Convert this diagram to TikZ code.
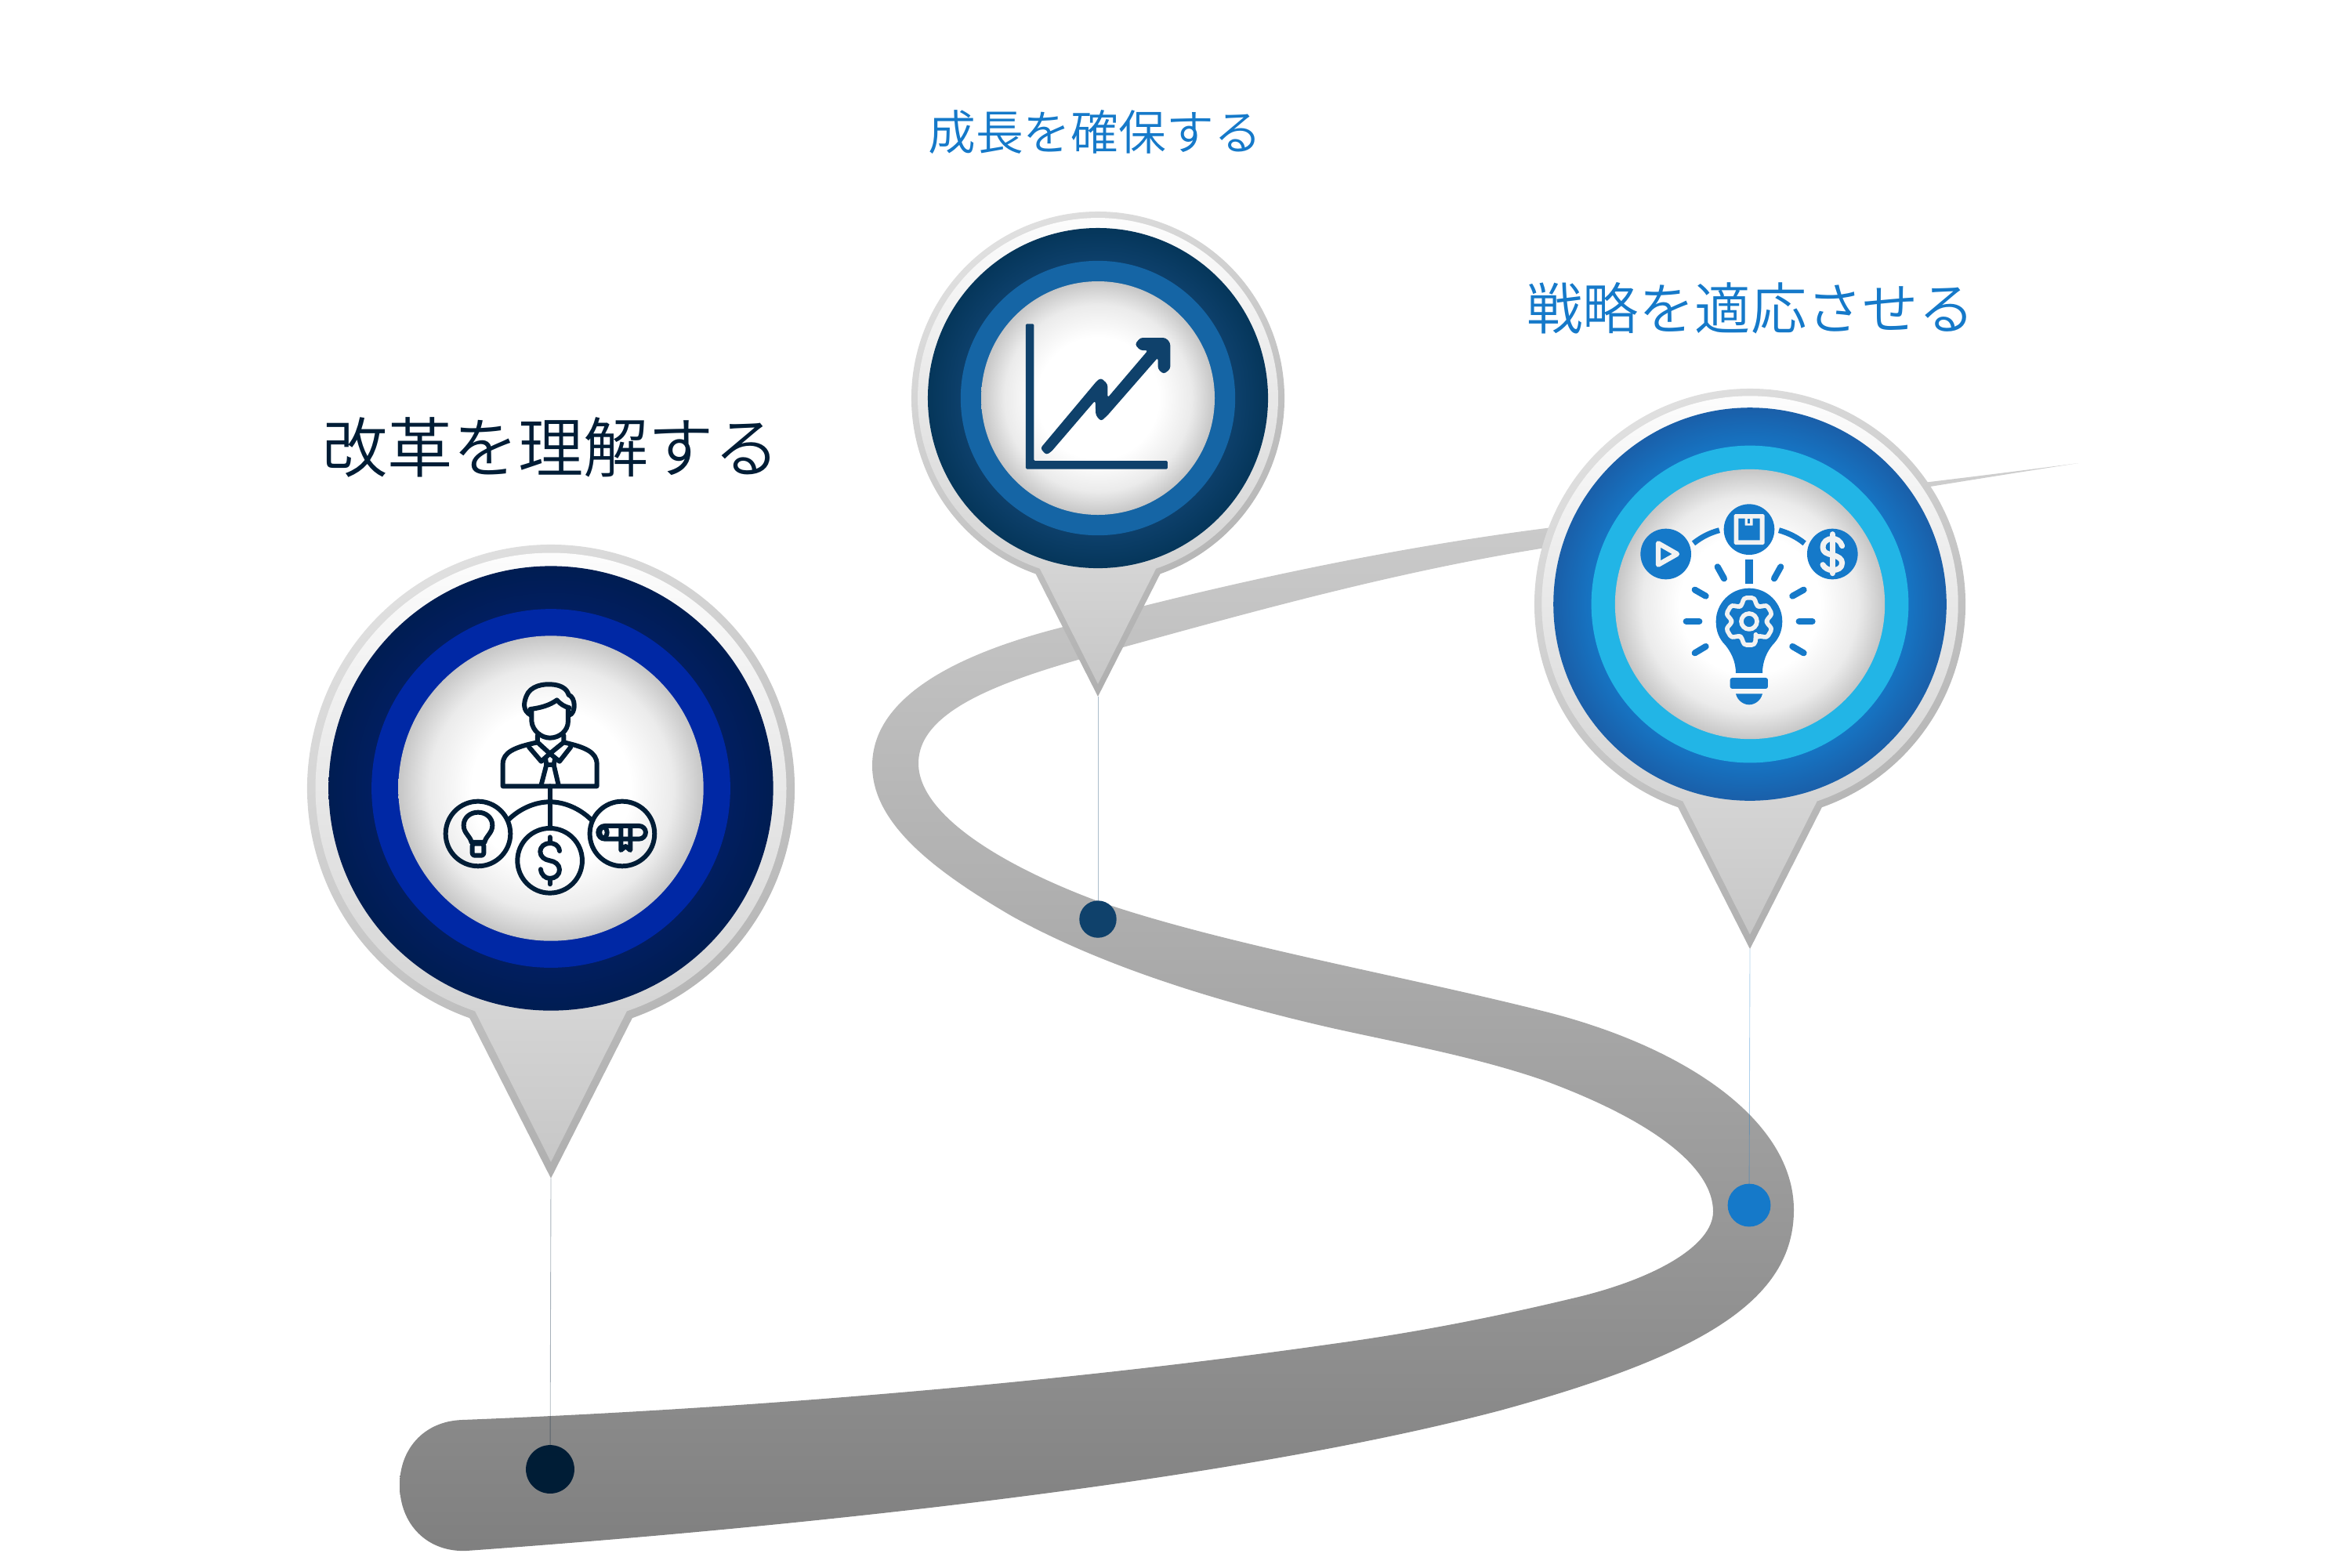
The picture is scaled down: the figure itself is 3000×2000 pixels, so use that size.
\documentclass[tikz,border=0pt]{standalone}
\usepackage{fontspec}
\usepackage{tikz}
\usetikzlibrary{calc, positioning}
\newfontfamily\jpfont{Noto Sans CJK JP DemiLight}

\definecolor{navyink}{HTML}{001D36}
\definecolor{deepblue}{HTML}{0F416B}
\definecolor{brightblue}{HTML}{1579C9}
\definecolor{ringa}{HTML}{001D52}
\definecolor{ringb}{HTML}{021E63}
\definecolor{ringc}{HTML}{05365A}
\definecolor{ringd}{HTML}{0F426F}
\definecolor{ringe}{HTML}{1A5FA9}
\definecolor{ringf}{HTML}{1579C9}
\definecolor{midone}{HTML}{0028A5}
\definecolor{midtwo}{HTML}{1565A5}
\definecolor{midthree}{HTML}{22B5E6}
\definecolor{coreedge}{HTML}{C6C6C6}
\definecolor{corehalf}{HTML}{EBEBEB}

\pgfdeclareradialshading{ringone}{\pgfpointorigin}{color(0bp)=(ringb); color(19bp)=(ringb); color(25bp)=(ringa); color(50bp)=(ringa)}
\pgfdeclareradialshading{ringtwo}{\pgfpointorigin}{color(0bp)=(ringd); color(19bp)=(ringd); color(25bp)=(ringc); color(50bp)=(ringc)}
\pgfdeclareradialshading{ringthree}{\pgfpointorigin}{color(0bp)=(ringf); color(19bp)=(ringf); color(25bp)=(ringe); color(50bp)=(ringe)}
\pgfdeclareradialshading{corefade}{\pgfpointorigin}{color(0bp)=(white); color(13bp)=(white); color(20bp)=(corehalf); color(25bp)=(coreedge); color(50bp)=(coreedge)}

% #1 ring shading, #2 middle ring colour
\newcommand{\pinbody}[2]{
  \shade[top color=black!12, bottom color=black!32, shading angle=30] (-70.5:100) arc[start angle=-70.5, end angle=250.5, radius=100] -- (0,-160) -- cycle;
  \shade[top color=white, bottom color=black!22] (-71.2:96.6) arc[start angle=-71.2, end angle=251.2, radius=96.6] -- (0,-153.3) -- cycle;
  \shade[shading=#1] (0,0) circle (91.2);
  \fill[#2] (0,0) circle (73.6);
  \shade[shading=corefade] (0,0) circle (62.6);
  \coordinate (tip) at (0,-160);
}

\begin{document}
\begin{tikzpicture}[x=.1mm, y=.1mm,
  stopmark/.style={circle, inner sep=0, outer sep=0, minimum size=#1},
  leader/.style={line width=.25pt, opacity=.35},
  heading/.style={font=\jpfont, inner sep=0},
  iconline/.style={draw=navyink, line width=1.7pt, line cap=round, line join=round},
  bluefill/.style={fill=brightblue},
  whiteline/.style={draw=white!95!black, line cap=round, line join=round},
  ray/.style={draw=brightblue, line width=2.3pt, line cap=round}]

\useasboundingbox (0,-2000) rectangle (3000,0);

% road
\shade[top color=black!19, bottom color=black!50]
  (589,-1812) .. controls (950,-1798) and (1350,-1765) .. (1700,-1715)
  .. controls (1810,-1700) and (1910,-1680) .. (2006,-1657)
  .. controls (2110,-1633) and (2186,-1590) .. (2186,-1546)
  .. controls (2186,-1490) and (2110,-1430) .. (1968,-1378)
  .. controls (1880,-1348) and (1790,-1332) .. (1700,-1312)
  .. controls (1560,-1280) and (1410,-1235) .. (1291,-1169)
  .. controls (1190,-1110) and (1113,-1050) .. (1113,-977)
  .. controls (1113,-890) and (1220,-835) .. (1353,-801)
  .. controls (1560,-745) and (1770,-700) .. (1973,-674)
  .. controls (2200,-645) and (2450,-618) .. (2652,-591)
  .. controls (2450,-622) and (2200,-665) .. (1966,-700)
  .. controls (1780,-730) and (1600,-780) .. (1433,-826)
  .. controls (1300,-862) and (1172,-900) .. (1172,-974)
  .. controls (1172,-1040) and (1280,-1105) .. (1401,-1150)
  .. controls (1560,-1205) and (1790,-1245) .. (1968,-1290)
  .. controls (2150,-1335) and (2289,-1430) .. (2289,-1544)
  .. controls (2289,-1660) and (2170,-1730) .. (1914,-1800)
  .. controls (1560,-1893) and (1000,-1950) .. (595,-1979)
  .. controls (545,-1981) and (510,-1945) .. (510,-1895)
  .. controls (510,-1850) and (540,-1814) .. (589,-1812) -- cycle;

% stops on the road
\node[stopmark=17.6pt, fill=navyink] (stop1) at (702,-1875) {};
\node[stopmark=13.5pt, fill=deepblue] (stop2) at (1401,-1173) {};
\node[stopmark=15.6pt, fill=brightblue] (stop3) at (2232,-1538) {};

% pins
\begin{scope}[shift={(703,-1006)}, scale=3.11]
  \pinbody{ringone}{midone}
  \coordinate (tip1) at (tip);
\end{scope}
\begin{scope}[shift={(1401,-508)}, scale=2.38]
  \pinbody{ringtwo}{midtwo}
  \coordinate (tip2) at (tip);
\end{scope}
\begin{scope}[shift={(2233,-771)}, scale=2.75]
  \pinbody{ringthree}{midthree}
  \coordinate (tip3) at (tip);
\end{scope}

\draw[leader, navyink] (tip1) -- (stop1);
\draw[leader, deepblue] (tip2) -- (stop2);
\draw[leader, brightblue] (tip3) -- (stop3);

% manager icon
\begin{scope}[shift={(560,-860)}, x=.03333mm, y=-.03333mm]
  \draw[iconline] (352,158) .. controls (320,140) and (325,110) .. (335,85) .. controls (350,45) and (400,38) .. (430,40) .. controls (465,42) and (490,55) .. (497,80) .. controls (525,90) and (525,150) .. (500,158);
  \draw[iconline] (350,135) .. controls (390,130) and (425,120) .. (452,100) .. controls (465,115) and (480,125) .. (500,130);
  \draw[iconline] (355,135) -- (355,180) .. controls (358,220) and (395,245) .. (425,245) .. controls (460,245) and (495,220) .. (495,180) -- (495,130);
  \draw[iconline] (378,235) -- (378,262) .. controls (290,280) and (245,300) .. (245,345) -- (245,430) -- (605,430) -- (605,345) .. controls (605,300) and (560,280) .. (478,262) -- (478,235);
  \draw[iconline] (345,280) -- (392,335) -- (425,305) -- (378,262);
  \draw[iconline] (505,280) -- (462,335) -- (425,305) -- (478,262);
  \draw[iconline] (408,322) -- (412,348) -- (440,348) -- (445,322);
  \draw[iconline] (412,348) -- (392,425);
  \draw[iconline] (440,348) -- (458,425);
  \draw[iconline] (425,430) -- (425,590);
  \draw[iconline] (265,560) .. controls (310,515) and (370,490) .. (425,490) .. controls (480,490) and (540,515) .. (585,560);
  \draw[iconline] (150,612) circle (124);
  \draw[iconline] (425,715) circle (124);
  \draw[iconline] (702,612) circle (124);
  \draw[iconline] (125,645) .. controls (120,620) and (95,610) .. (95,580) .. controls (95,550) and (120,530) .. (150,530) .. controls (180,530) and (205,550) .. (205,580) .. controls (205,610) and (180,620) .. (175,645) -- cycle;
  \draw[iconline, rounded corners=.8pt] (128,650) rectangle (172,695);
  \draw[iconline] (462,678) .. controls (460,655) and (440,648) .. (425,648) .. controls (405,648) and (388,662) .. (388,680) .. controls (388,700) and (405,712) .. (425,715) .. controls (445,718) and (462,730) .. (462,750) .. controls (462,770) and (445,783) .. (425,783) .. controls (408,783) and (392,770) .. (390,748);
  \draw[iconline] (425,625) -- (425,648);
  \draw[iconline] (425,783) -- (425,805);
  \draw[iconline, rounded corners=2.4pt] (610,582) rectangle (792,632);
  \draw[iconline] (630,607) ellipse (14 and 20);
  \draw[iconline] (697,585) -- (697,675) -- (715,660) -- (733,675) -- (733,585);
\end{scope}

% growth icon
\begin{scope}[shift={(1150,-250)}, x=.03333mm, y=-.0421mm]
  \fill[deepblue, rounded corners=.4pt] (477,388) -- (508,388) -- (508,803) -- (1020,803) -- (1020,828) -- (477,828) -- cycle;
  \fill[deepblue, rounded corners=.9pt] (533,765) -- (750,560) -- (765,552) -- (790,570) -- (790,612) -- (945,468) -- (915,468) -- (895,450) -- (915,430) -- (1012,430) -- (1030,445) -- (1030,525) -- (1005,540) -- (983,525) -- (983,490) -- (790,665) -- (765,683) -- (745,665) -- (743,620) -- (575,775) -- (555,785) -- cycle;
\end{scope}

% idea icon
\begin{scope}[shift={(2090,-630)}, x=.03333mm, y=-.03333mm]
  \fill[bluefill] (107,231) circle (97);
  \fill[bluefill] (426,137) circle (97);
  \fill[bluefill] (745,231) circle (97);
  \draw[draw=brightblue, line width=2pt] (213,190) .. controls (245,165) and (275,150) .. (312,140);
  \draw[draw=brightblue, line width=2pt] (540,140) .. controls (575,150) and (607,165) .. (638,190);
  \draw[draw=brightblue, line width=2.8pt] (426,252) -- (426,345);
  \draw[ray] (305,280) -- (330,325);
  \draw[ray] (547,280) -- (522,325);
  \draw[ray] (218,368) -- (260,392);
  \draw[ray] (635,368) -- (592,392);
  \draw[ray] (185,489) -- (235,489);
  \draw[ray] (617,489) -- (668,489);
  \draw[ray] (218,610) -- (260,585);
  \draw[ray] (635,610) -- (592,585);
  \fill[bluefill] (375,687) .. controls (375,640) and (355,605) .. (335,580) .. controls (310,555) and (299,525) .. (299,489) .. controls (299,420) and (355,362) .. (426,362) .. controls (497,362) and (553,420) .. (553,489) .. controls (553,525) and (540,555) .. (515,580) .. controls (495,605) and (477,640) .. (477,687) -- cycle;
  \fill[bluefill, rounded corners=.8pt] (353,705) rectangle (498,747);
  \fill[bluefill] (375,766) -- (477,766) .. controls (470,795) and (445,808) .. (426,808) .. controls (407,808) and (382,795) .. (375,766) -- cycle;
  \draw[whiteline, line width=1.6pt] (426,489) circle (30);
  \begin{scope}[shift={(426,489)}]
    \draw[whiteline, line width=1.6pt, rounded corners=1.2pt] (68:68) \foreach \a in {90,150,...,390} { -- (\a-22:68) -- (\a-14:93) -- (\a+14:93) -- (\a+22:68) } -- cycle;
  \end{scope}
  \draw[whiteline, line width=1.8pt] (78,190) -- (150,231) -- (78,272) -- cycle;
  \fill[white!95!black, rounded corners=.5pt] (368,78) rectangle (485,195);
  \fill[bluefill] (385,95) -- (410,95) -- (410,122) -- (440,122) -- (440,95) -- (467,95) -- (467,178) -- (385,178) -- cycle;
  \fill[bluefill] (420,95) rectangle (430,115);
  \draw[whiteline, line width=2pt] (782,200) .. controls (775,180) and (760,172) .. (745,172) .. controls (725,172) and (708,185) .. (708,205) .. controls (708,225) and (725,230) .. (745,235) .. controls (768,240) and (782,250) .. (782,265) .. controls (782,285) and (765,293) .. (745,293) .. controls (730,293) and (715,285) .. (708,272);
  \draw[whiteline, line width=2pt] (745,155) -- (745,305);
\end{scope}

% headings
\node[heading, text=navyink, font=\jpfont\fontsize{23.7}{28}\selectfont] (head1) at (703,-571) {改革を理解する};
\node[heading, text=brightblue, font=\jpfont\fontsize{17.3}{21}\selectfont] (head2) at (1397,-169) {成長を確保する};
\node[heading, text=brightblue, font=\jpfont\fontsize{20.3}{24}\selectfont] (head3) at (2234,-393) {戦略を適応させる};
\end{tikzpicture}
\end{document}
